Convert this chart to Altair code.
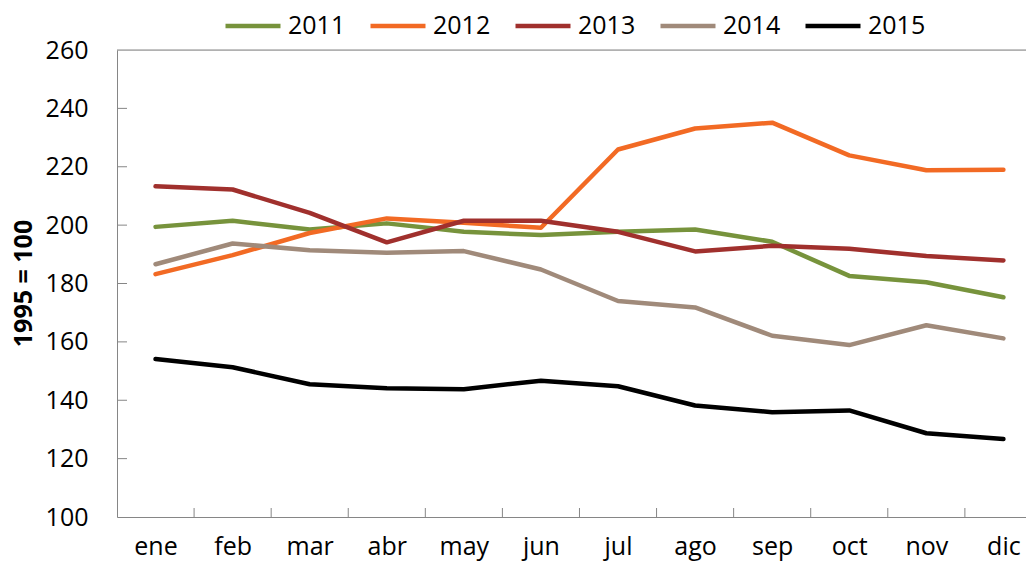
import altair as alt
import pandas as pd

months = ["ene", "feb", "mar", "abr", "may", "jun", "jul", "ago", "sep", "oct", "nov", "dic"]
years = ["2011", "2012", "2013", "2014", "2015"]
colors = ["#77933C", "#F26A24", "#A0302D", "#A08A7A", "#000000"]

v2011 = [199.4, 201.5, 198.5, 200.6, 197.7, 196.6, 197.7, 198.5, 194.3, 182.6, 180.4, 175.3]
v2012 = [183.2, 189.7, 197.3, 202.3, 200.8, 199.1, 225.9, 233.1, 235.1, 223.9, 218.8, 219.0]
v2013 = [213.3, 212.2, 204.2, 194.1, 201.5, 201.5, 197.7, 191.0, 192.9, 191.9, 189.4, 187.9]
v2014 = [186.6, 193.7, 191.4, 190.5, 191.1, 184.8, 174.0, 171.8, 162.1, 158.9, 165.7, 161.2]
v2015 = [154.1, 151.3, 145.5, 144.1, 143.8, 146.7, 144.8, 138.2, 135.9, 136.5, 128.7, 126.7]

y_ticks = [100, 120, 140, 160, 180, 200, 220, 240, 260]

series = [v2011, v2012, v2013, v2014, v2015]
rows = []
for yr, vals in zip(years, series):
    for i, v in enumerate(vals):
        rows.append({"i": i, "mes": months[i], "year": yr, "value": v})
df = pd.DataFrame(rows)

FONT = "Open Sans"
W, H = 909, 467
x_dom = [-0.5, 11.293]
label_expr = "[" + ",".join("'%s'" % m for m in months) + "][datum.value]"

x_scale = alt.Scale(domain=x_dom, nice=False, zero=False)
y_scale = alt.Scale(domain=[100, 260], nice=False, zero=False)

lines = alt.Chart(df).mark_line(strokeWidth=4.5, strokeCap="round", strokeJoin="round").encode(
    x=alt.X("i:Q", scale=x_scale,
            axis=alt.Axis(values=list(range(12)), labelExpr=label_expr, title=None,
                          ticks=False, grid=False, labelFontSize=25, labelFont=FONT,
                          labelColor="#000000", labelPadding=17, domainColor="#868686",
                          domainWidth=1, labelFlush=False, labelOverlap=False)),
    y=alt.Y("value:Q", scale=y_scale,
            axis=alt.Axis(values=y_ticks, title="1995 = 100", ticks=False, grid=False,
                          labelFontSize=25, labelFont=FONT, labelColor="#000000",
                          labelPadding=29, domainColor="#868686", domainWidth=1,
                          titleFont=FONT, titleFontSize=25, titleFontWeight="bold",
                          titleColor="#000000", titleAngle=-90, titleX=-94, titleY=233,
                          titleAlign="center", titleBaseline="middle", labelFlush=False)),
    color=alt.Color("year:N", scale=alt.Scale(domain=years, range=colors),
                    legend=alt.Legend(title=None, orient="none", direction="horizontal",
                                      legendX=120, legendY=-40, symbolType="M-2,0H2",
                                      symbolSize=756, symbolStrokeWidth=4.5,
                                      labelFont=FONT, labelFontSize=25, labelColor="#000000",
                                      labelOffset=19, columnPadding=15)),
    detail="year:N",
)

top_df = pd.DataFrame({"v": [260]})
top_rule = alt.Chart(top_df).mark_rule(color="#868686", strokeWidth=1).encode(
    y=alt.Y("v:Q", scale=y_scale)
)

ytick_df = pd.DataFrame({"v": y_ticks[1:-1]})
ytick_rules = alt.Chart(ytick_df).mark_rule(color="#868686", strokeWidth=1).encode(
    y=alt.Y("v:Q", scale=y_scale), x=alt.value(0), x2=alt.value(10)
)

xtick_df = pd.DataFrame({"b": [i + 0.5 for i in range(11)]})
xtick_rules = alt.Chart(xtick_df).mark_rule(color="#868686", strokeWidth=1).encode(
    x=alt.X("b:Q", scale=x_scale), y=alt.value(H), y2=alt.value(H - 9)
)

chart = alt.layer(top_rule, ytick_rules, xtick_rules, lines).properties(
    width=W, height=H,
    autosize=alt.AutoSizeParams(type="none"),
    padding={"left": 109, "top": 42, "right": 0, "bottom": 44},
).configure_view(stroke=None).configure(background="white")

chart.save("out.html", embed_options={"renderer": "svg", "actions": False})
